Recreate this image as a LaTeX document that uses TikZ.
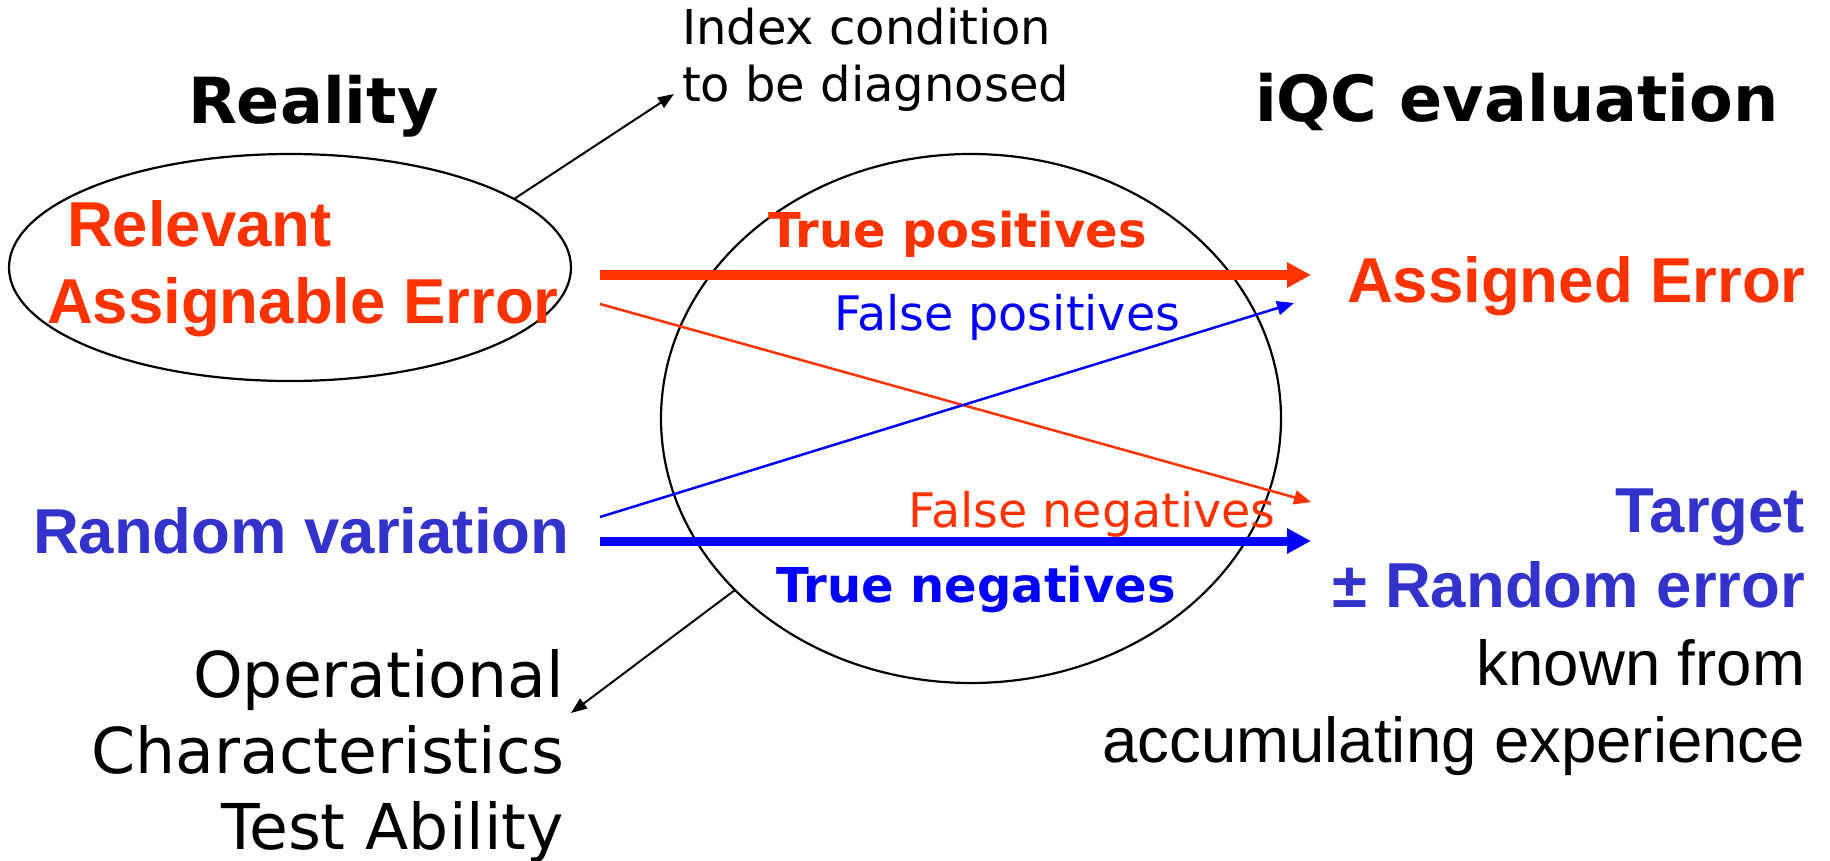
\documentclass[tikz,border=0pt]{standalone}
\usepackage{fontspec}
\setmainfont{DejaVu Sans}
\newfontfamily\arialf{Liberation Sans}
\usetikzlibrary{shapes.geometric,arrows.meta}
\definecolor{ored}{HTML}{FF3300}
\definecolor{dblue}{HTML}{3333CC}
\definecolor{pblue}{HTML}{0000FF}
\begin{document}
\begin{tikzpicture}[x=0.5pt,y=-0.5pt,
  every node/.style={inner sep=0pt,outer sep=0pt},
  headtxt/.style={font=\fontsize{31.8}{37}\selectfont\bfseries,anchor=base west},
  idxtxt/.style={font=\fontsize{24}{28}\selectfont,anchor=base west},
  errtxt/.style={font=\arialf\fontsize{31.75}{38}\selectfont\bfseries,text=ored,anchor=base west},
  randtxt/.style={font=\arialf\fontsize{31.75}{38}\selectfont\bfseries,text=dblue},
  exptxt/.style={font=\arialf\fontsize{31.75}{38}\selectfont,anchor=base east},
  optxt/.style={font=\fontsize{31.6}{37}\selectfont,anchor=base east},
  smallbold/.style={font=\fontsize{24}{28}\selectfont\bfseries,anchor=base west},
  smallreg/.style={font=\fontsize{23.8}{28}\selectfont,anchor=base west},
  oval/.style={draw,ellipse,line width=1.1pt},
  thick arrow/.style={line width=4.5pt,-{Triangle[length=12pt,width=12pt]}},
  thin arrow/.style={line width=1.25pt,-{Triangle[length=8.5pt,width=7pt]}},
  note arrow/.style={line width=1pt,-{Triangle[length=8pt,width=6pt]}}
]
\useasboundingbox (0,0) rectangle (1830,861);

% titles
\node[headtxt] (reality) at (188,124) {Reality};
\node[headtxt] (iqc) at (1255,122) {iQC evaluation};
\node[idxtxt] (idx1) at (682,45) {Index condition};
\node[idxtxt] (idx2) at (682,102) {to be diagnosed};

% ovals
\node[oval,minimum width=281pt,minimum height=113.5pt] (rea) at (290,267.5) {};
\node[oval,minimum width=310pt,minimum height=264.5pt] (oc) at (971,418.5) {};

% left texts
\node[errtxt] (rel1) at (67,247) {Relevant};
\node[errtxt] (rel2) at (47,323) {Assignable Error};
\node[randtxt,anchor=base west] (rand) at (33,553) {Random variation};

% right texts
\node[errtxt] (assigned) at (1347,302) {Assigned Error};
\node[randtxt,anchor=base east] (target) at (1805,532) {Target};
\node[randtxt,anchor=base east] (pm) at (1805,607) {± Random error};
\node[exptxt] (known) at (1805,685) {known from};
\node[exptxt] (accum) at (1805,762) {accumulating experience};

% operational characteristics
\node[optxt] (op1) at (564,697) {Operational};
\node[optxt] (op2) at (564,773) {Characteristics};
\node[optxt] (op3) at (564,849) {Test Ability};

% labels in the oval
\node[smallbold,text=ored] (tp) at (768,248) {True positives};
\node[smallreg,text=pblue] (fp) at (834,330) {False positives};
\node[smallreg,text=ored] (fn) at (908,527) {False negatives};
\node[smallbold,text=pblue] (tn) at (776,602) {True negatives};

% arrow end points
\coordinate (tpS) at (600,275);
\coordinate (tpE) at (1311,275);
\coordinate (fnS) at (600,304);
\coordinate (fnE) at (1311,502);
\coordinate (fpS) at (600,517);
\coordinate (fpE) at (1294,303);
\coordinate (tnS) at (600,541);
\coordinate (tnE) at (1311,541);
\coordinate (idxtip) at (674,94);
\coordinate (optip) at (571,713);

\draw[ored,thick arrow] (tpS) -- (tpE);
\draw[ored,thin arrow] (fnS) -- (fnE);
\draw[pblue,thin arrow] (fpS) -- (fpE);
\draw[pblue,thick arrow] (tnS) -- (tnE);
\draw[note arrow] (rea.17) -- (idxtip);
\draw[note arrow] (oc.216) -- (optip);
\end{tikzpicture}
\end{document}
